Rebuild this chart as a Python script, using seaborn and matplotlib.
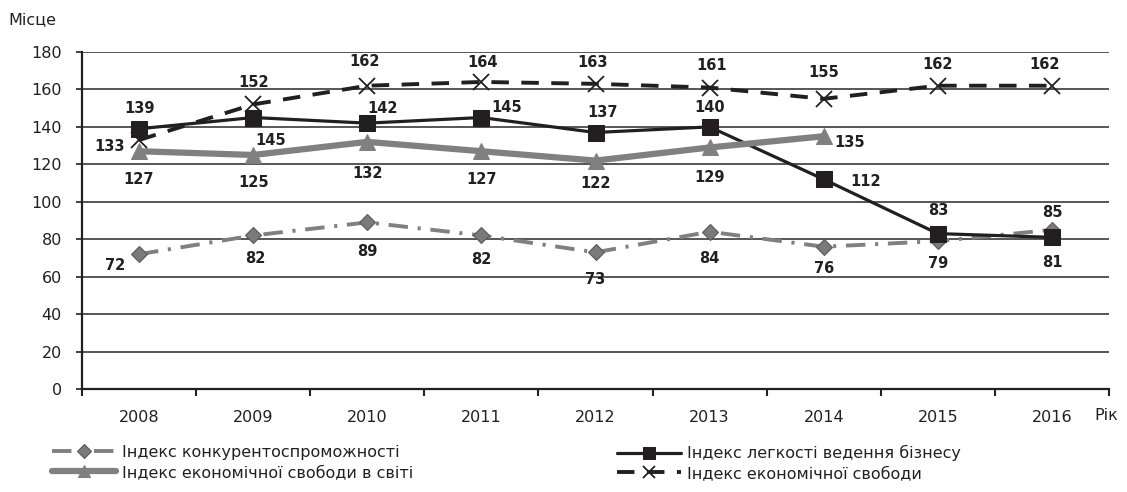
import matplotlib
matplotlib.use('Agg')
import matplotlib.pyplot as plt
from matplotlib.ticker import FixedLocator
import seaborn as sns

# Data
years = ['2008', '2009', '2010', '2011', '2012', '2013', '2014', '2015', '2016']
competitiveness = [72, 82, 89, 82, 73, 84, 76, 79, 85]
ease_business = [139, 145, 142, 145, 137, 140, 112, 83, 81]
freedom_world_years = years[:7]
freedom_world = [127, 125, 132, 127, 122, 129, 135]
freedom = [133, 152, 162, 164, 163, 161, 155, 162, 162]

labels = [
    'Індекс конкурентоспроможності',
    'Індекс легкості ведення бізнесу',
    'Індекс економічної свободи в світі',
    'Індекс економічної свободи',
]
y_ticks = [0, 20, 40, 60, 80, 100, 120, 140, 160, 180]

# label offsets in pixels (dx, dy) for each point
comp_off = [(-24, -11), (2, -23), (0, -29), (0, -24), (0, -27), (0, -27), (0, -22), (0, -22), (0, 17)]
ease_off = [(1, 20), (17, -23), (15, 15), (25, 10), (7, 20), (0, 19), (42, -2), (0, 23), (0, -25)]
world_off = [(0, -28), (0, -28), (0, -32), (0, -28), (0, -23), (0, -30), (26, -6)]
free_off = [(-29, -7), (0, 22), (-3, 24), (1, 19), (-3, 21), (2, 22), (0, 26), (0, 21), (-7, 21)]

ink = '#231f20'
grey = '#808080'

sns.set_style('white')
plt.rcParams['font.family'] = ['DejaVu Sans']

fig, ax = plt.subplots(figsize=(11.27, 4.92), dpi=100)
fig.subplots_adjust(left=82 / 1127, right=1109 / 1127, bottom=1 - 389 / 492, top=1 - 52 / 492)

sns.lineplot(x=years, y=competitiveness, sort=False, ax=ax, color=grey, linewidth=2.8,
             linestyle=(0, (5, 2.5, 0.8, 2.5)), marker='D', markersize=8.5,
             markerfacecolor='#7a7a7a', markeredgecolor='#5a5a5a', markeredgewidth=0.8,
             label=labels[0], zorder=3)
sns.lineplot(x=years, y=ease_business, sort=False, ax=ax, color=ink, linewidth=2.3,
             marker='s', markersize=12, markerfacecolor=ink, markeredgecolor=ink,
             label=labels[1], zorder=4)
sns.lineplot(x=freedom_world_years, y=freedom_world, sort=False, ax=ax, color=grey,
             linewidth=4.5, marker='^', markersize=11, markerfacecolor=grey,
             markeredgecolor=grey, label=labels[2], zorder=5)
sns.lineplot(x=years, y=freedom, sort=False, ax=ax, color=ink, linewidth=2.8,
             linestyle=(0, (4.5, 3.2)), marker='x', markersize=12, markeredgewidth=1.3,
             markeredgecolor=ink, label=labels[3], zorder=6)

lab_kw = dict(textcoords='offset pixels', ha='center', va='center',
              fontsize=10.5, fontweight='bold', color=ink, zorder=10)
for yr, v, off in zip(years, competitiveness, comp_off):
    ax.annotate(str(v), xy=(yr, v), xytext=off, **lab_kw)
for yr, v, off in zip(years, ease_business, ease_off):
    ax.annotate(str(v), xy=(yr, v), xytext=off, **lab_kw)
for yr, v, off in zip(freedom_world_years, freedom_world, world_off):
    ax.annotate(str(v), xy=(yr, v), xytext=off, **lab_kw)
for yr, v, off in zip(years, freedom, free_off):
    ax.annotate(str(v), xy=(yr, v), xytext=off, **lab_kw)

ax.set_xlim(-0.5, len(years) - 0.5)
ax.set_ylim(0, 180)
ax.set_yticks(y_ticks)
ax.yaxis.grid(True, color='#3a3a3a', linewidth=1.2)
ax.xaxis.grid(False)
ax.set_axisbelow(True)
ax.set_xlabel('')
ax.set_ylabel('')

for side in ['top', 'right']:
    ax.spines[side].set_visible(False)
for side in ['left', 'bottom']:
    ax.spines[side].set_color(ink)
    ax.spines[side].set_linewidth(1.6)

ax.tick_params(axis='y', length=4.5, width=1.2, color=ink, pad=10,
               labelsize=11.5, labelcolor=ink, left=True)
ax.tick_params(axis='x', which='major', length=0, pad=15, labelsize=11.5, labelcolor=ink)
ax.xaxis.set_minor_locator(FixedLocator([i - 0.5 for i in range(len(years) + 1)]))
ax.tick_params(axis='x', which='minor', length=5, width=1.5, color=ink, bottom=True)

fig.text(8 / 1127, 1 - 20 / 492, 'Місце', fontsize=11.5, color=ink, va='center', ha='left')
fig.text(1094 / 1127, 1 - 416 / 492, 'Рік', fontsize=11.5, color=ink, va='center', ha='left')

handles, _ = ax.get_legend_handles_labels()
ax.get_legend().remove()
leg_kw = dict(frameon=False, fontsize=11.5, handlelength=4.0, handletextpad=0.4,
              labelspacing=0.3, borderpad=0, borderaxespad=0, numpoints=1,
              labelcolor=ink, loc='upper left', bbox_transform=fig.transFigure)
leg1 = ax.legend([handles[0], handles[2]], [labels[0], labels[2]],
                 bbox_to_anchor=(52 / 1127, 1 - 445 / 492), **leg_kw)
ax.add_artist(leg1)
leg2 = ax.legend([handles[1], handles[3]], [labels[1], labels[3]],
                 bbox_to_anchor=(617 / 1127, 1 - 445 / 492), **leg_kw)

# smaller markers in the legend keys, as in the reference
for h, ms in zip(leg1.legend_handles, [7, 9]):
    h.set_markersize(ms)
for h, ms in zip(leg2.legend_handles, [9, 9]):
    h.set_markersize(ms)

fig.savefig('out.png', dpi=100)
